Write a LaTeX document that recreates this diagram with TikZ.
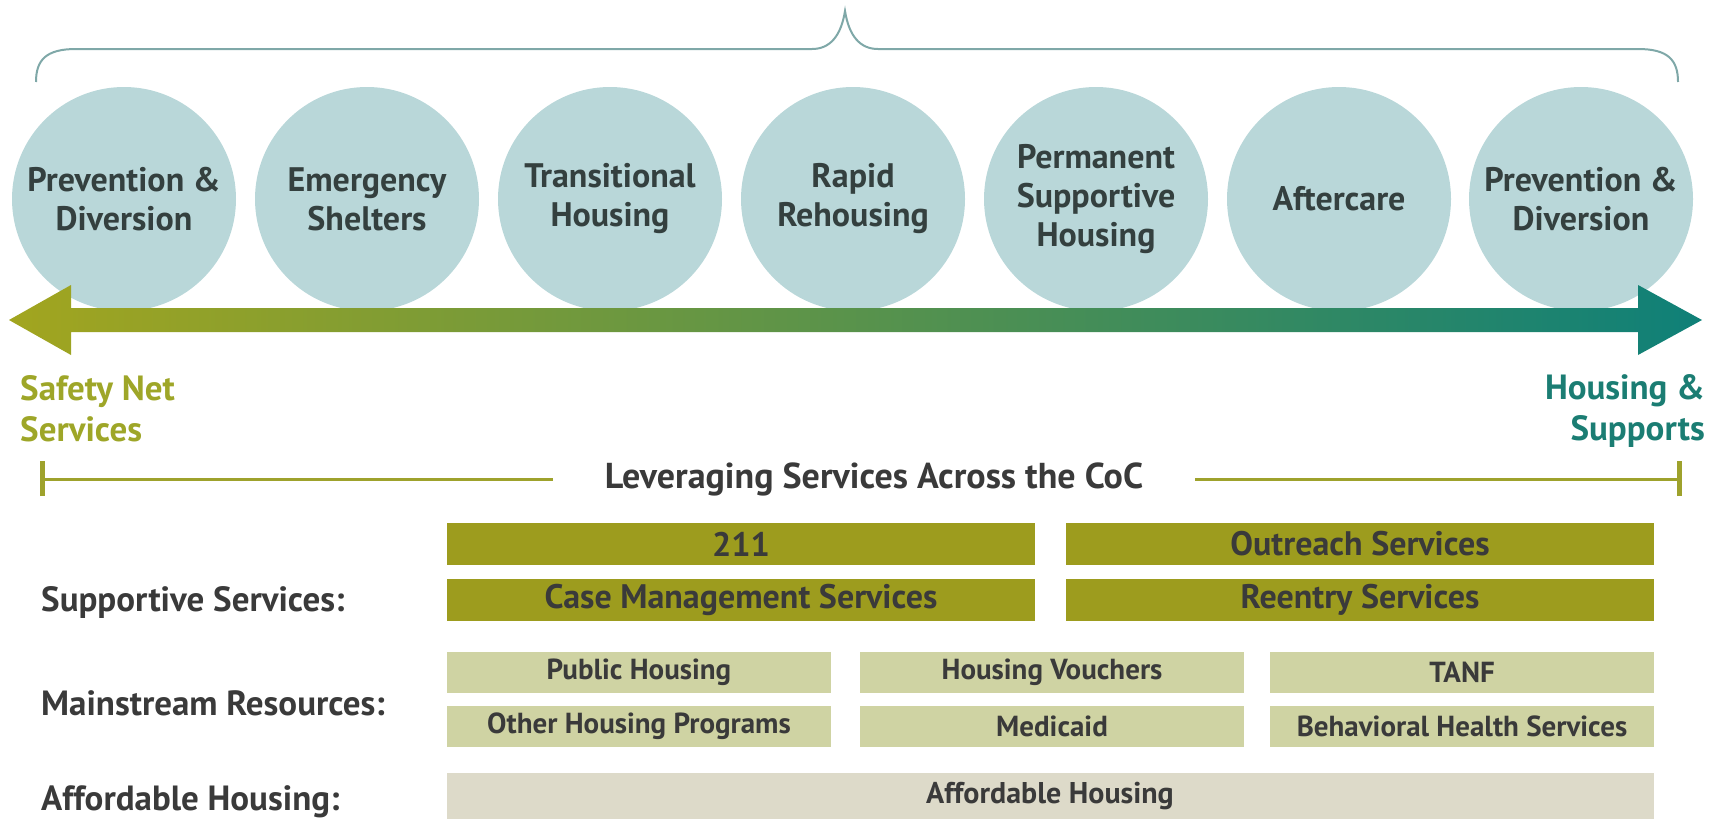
\documentclass[tikz,border=0pt]{standalone}
\usepackage{fontspec}
\setmainfont{PT Sans}
\usetikzlibrary{positioning}

\definecolor{circfill}{HTML}{B9D7D9}
\definecolor{bracecol}{HTML}{7FA8A8}
\definecolor{stagetext}{HTML}{34403F}
\definecolor{olivearr}{HTML}{A2A51F}
\definecolor{greenarr}{HTML}{3F9444}
\definecolor{tealarr}{HTML}{0F8078}
\definecolor{safetext}{HTML}{9EA628}
\definecolor{houstext}{HTML}{1B7D73}
\definecolor{levcol}{HTML}{9EA22C}
\definecolor{darkbox}{HTML}{9D9C1E}
\definecolor{lightbox}{HTML}{CFD3A3}
\definecolor{affbox}{HTML}{DDDAC9}
\definecolor{labtext}{HTML}{3A3A3A}

\begin{document}
\begin{tikzpicture}[x=1pt,y=-1pt,
    stage/.style={circle,fill=circfill,minimum size=224pt,inner sep=0pt,align=center,
      text=stagetext,font=\bfseries\fontsize{34}{39}\selectfont},
    endlabel/.style={inner sep=0pt,font=\bfseries\fontsize{35}{41}\selectfont},
    rowlabel/.style={anchor=west,inner sep=0pt,text=labtext,font=\bfseries\fontsize{35}{40}\selectfont},
    suppbox/.style={fill=darkbox,minimum width=588pt,minimum height=42pt,inner sep=0pt,
      text=labtext,font=\bfseries\fontsize{34}{38}\selectfont},
    mainbox/.style={fill=lightbox,minimum width=384pt,minimum height=41pt,inner sep=0pt,
      text=labtext,font=\bfseries\fontsize{29}{33}\selectfont},
    affbox/.style={fill=affbox,minimum width=1207pt,minimum height=46pt,inner sep=0pt,
      text=labtext,font=\bfseries\fontsize{30}{34}\selectfont},
    levline/.style={levcol,line width=3pt}]
  \useasboundingbox (0,0) rectangle (1723,822);

  % brace over the stages
  \coordinate (brL) at (36,82);
  \coordinate (brM) at (845,11);
  \coordinate (brR) at (1678,82);
  \draw[bracecol,line width=2pt] (brL) .. controls (36,60) and (46,49) .. (76,49) -- (812,49)
    .. controls (830,49) and (841,36) .. (brM) .. controls (849,36) and (860,49) .. (878,49)
    -- (1638,49) .. controls (1668,49) and (1678,60) .. (brR);

  % stages
  \node[stage] (prev1) at (124,199) {Prevention \&\\Diversion};
  \node[stage] (shelt) at (367,199) {Emergency\\Shelters};
  \node[stage] (trans) at (610,199) {Transitional\\Housing};
  \node[stage] (rapid) at (853,199) {Rapid\\Rehousing};
  \node[stage] (perm) at (1096,199) {Permanent\\Supportive\\Housing};
  \node[stage] (after) at (1339,199) {Aftercare};
  \node[stage] (prev2) at (1581,199) {Prevention \&\\Diversion};

  % double arrow
  \coordinate (arrL) at (9,320);
  \coordinate (arrR) at (1702,320);
  \shade[left color=olivearr,middle color=greenarr,right color=tealarr]
    (arrL) -- (71,285) -- (71,308) -- (1638,308) -- (1638,285) -- (arrR)
    -- (1638,355) -- (1638,332) -- (71,332) -- (71,355) -- cycle;

  \node[endlabel,text=safetext,anchor=north west,align=left] (safety) at (20,375) {Safety Net\\Services};
  \node[endlabel,text=houstext,anchor=north east,align=right] (housing) at (1705,374) {Housing \&\\Supports};

  % leveraging line
  \node[text=labtext,font=\bfseries\fontsize{36}{40}\selectfont,outer xsep=52pt,inner sep=0pt]
    (lev) at (874,479) {Leveraging Services Across the CoC};
  \coordinate (levL) at (42,479);
  \coordinate (levR) at (1679,479);
  \draw[levline] (levL) -- (lev.west);
  \draw[levline] (lev.east) -- (levR);
  \draw[levcol,line width=5pt] ([yshift=-17pt]levL) -- ([yshift=18pt]levL);
  \draw[levcol,line width=5pt] ([yshift=-17pt]levR) -- ([yshift=18pt]levR);

  % rows
  \node[rowlabel] (supp) at (41,602) {Supportive Services:};
  \node[rowlabel] (main) at (41,703) {Mainstream Resources:};
  \node[rowlabel] (afford) at (41,802) {Affordable Housing:};

  \node[suppbox] (b211) at (741,544) {211};
  \node[suppbox] (outr) at (1360,544) {Outreach Services};
  \node[suppbox] (case) at (741,600) {Case Management Services};
  \node[suppbox] (reent) at (1360,600) {Reentry Services};

  \node[mainbox] (pubh) at (639,672) {Public Housing};
  \node[mainbox] (vouch) at (1052,672) {Housing Vouchers};
  \node[mainbox] (tanf) at (1462,672) {TANF};
  \node[mainbox] (othh) at (639,726) {Other Housing Programs};
  \node[mainbox] (medic) at (1052,726) {Medicaid};
  \node[mainbox] (behav) at (1462,726) {Behavioral Health Services};

  \node[affbox] (affh) at (1050,796) {Affordable Housing};
\end{tikzpicture}
\end{document}
